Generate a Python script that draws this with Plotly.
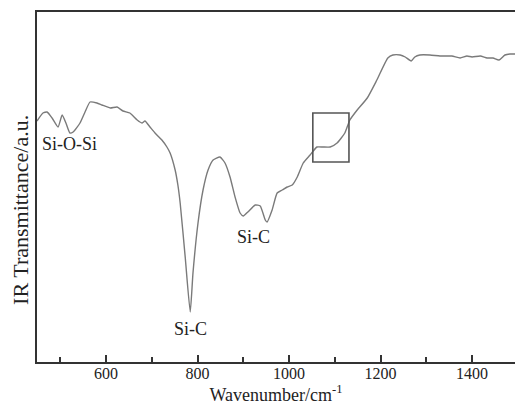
import plotly.graph_objects as go

wavenumber = [449, 462, 471, 482, 495, 504, 513, 521, 528, 543, 554, 565, 580, 591, 609, 624,
              637, 652, 668, 679, 685, 696, 707, 722, 733, 740, 751, 757, 762, 773, 784, 790,
              801, 812, 823, 834, 849, 860, 871, 882, 893, 900, 910, 926, 937, 948, 952, 963,
              974, 985, 996, 1007, 1018, 1031, 1046, 1061, 1074, 1090, 1105, 1122, 1133, 1149,
              1171, 1192, 1216, 1227, 1243, 1254, 1267, 1275, 1286, 1308, 1330, 1356, 1374,
              1389, 1400, 1418, 1433, 1446, 1459, 1472, 1483, 1494]
transmittance = [241, 249, 250, 244, 235, 247, 238, 229, 230, 239, 250, 260, 259, 257, 254, 255,
                 251, 249, 242, 239, 241, 235, 229, 222, 215, 209, 192, 177, 159, 105, 50, 89,
                 139, 172, 192, 202, 205, 199, 185, 165, 149, 146, 150, 157, 156, 142, 140, 152,
                 169, 172, 175, 177, 185, 199, 207, 215, 215, 215, 219, 229, 242, 252,
                 264, 282, 304, 307, 307, 305, 301, 305, 307, 307, 306, 306, 304,
                 306, 305, 306, 304, 304, 302, 307, 308, 308]

labels = ["Si-O-Si", "Si-C", "Si-C"]
label_x = [521, 784, 923]
label_y = [218, 33, 125]

box_x = [1052, 1131]
box_y = [200, 249]

x_ticks = [600, 800, 1000, 1200, 1400]

fig = go.Figure()
fig.add_trace(go.Scatter(x=wavenumber, y=transmittance, mode="lines",
                         line=dict(color="#7a7a7a", width=1.4, shape="spline", smoothing=0.5),
                         hoverinfo="skip", showlegend=False))

for t, x, y in zip(labels, label_x, label_y):
    fig.add_annotation(x=x, y=y, text=t, showarrow=False, xref="x", yref="y",
                       font=dict(family="Liberation Serif", size=18, color="#222"))

fig.add_shape(type="rect", xref="x", yref="y", x0=box_x[0], x1=box_x[1], y0=box_y[0], y1=box_y[1],
              line=dict(color="#555", width=1.6))

fig.add_annotation(text="IR Transmittance/a.u.", xref="paper", yref="paper", x=-0.036, y=0.434,
                   xanchor="center", yanchor="middle",
                   textangle=-90, showarrow=False,
                   font=dict(family="Liberation Serif", size=22, color="#222"))

fig.update_layout(
    width=515, height=406,
    margin=dict(l=37, r=0, t=12, b=44),
    paper_bgcolor="white", plot_bgcolor="white",
    font=dict(family="Liberation Serif", size=16, color="#222"),
    xaxis=dict(range=[449, 1494], tickvals=x_ticks, ticks="inside", ticklen=7, tickwidth=1.5,
               tickcolor="#333", showline=True, linecolor="#333", linewidth=2, mirror=True,
               showgrid=False, zeroline=False, ticklabelstandoff=-4,
               minor=dict(tickvals=[500, 700, 900, 1100, 1300], ticks="inside", ticklen=5,
                          tickwidth=1.5, tickcolor="#333"),
               title=dict(text="Wavenumber/cm<sup>-1</sup>", font=dict(size=18), standoff=4)),
    yaxis=dict(range=[0, 350], showticklabels=False, ticks="", showline=True, linecolor="#333",
               linewidth=2, mirror=False, showgrid=False, zeroline=False),
)

fig.write_html("out.html", config={"displayModeBar": False},
               post_script="document.body.style.margin='0';document.body.style.padding='0';")
